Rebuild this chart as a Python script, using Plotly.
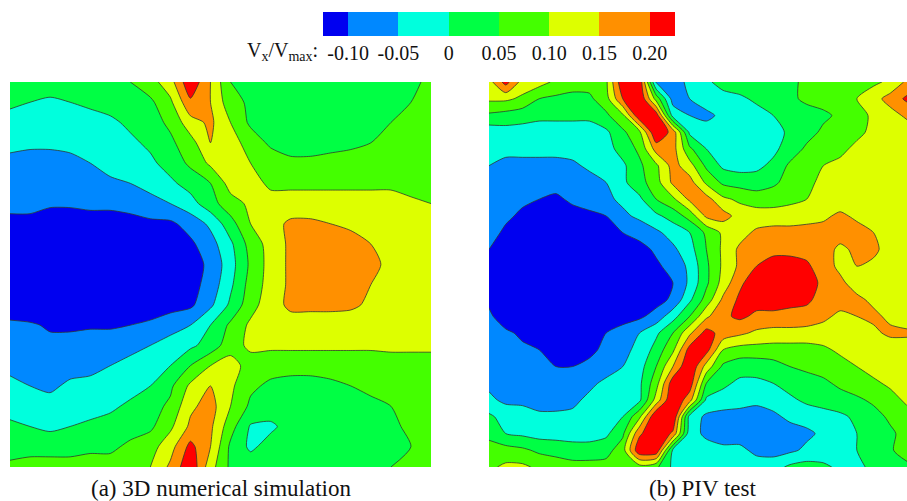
import plotly.graph_objects as go
import numpy as np

# Velocity ratio on a regular grid (hundredths of Vx/Vmax)
sim_z = [
[2,2,3,3,3,4,5,8,13,24,15,5,4,3,3,3,3,3,3,3,4,6],
[1,0,-1,0,1,2,3,4,9,19,15,7,4,3,3,3,3,3,3,4,5,6],
[-2,-3,-3,-3,-2,-1,1,3,6,13,16,10,4,3,3,3,3,4,4,5,6,7],
[-4,-4,-4,-4,-3,-3,-1,1,4,8,15,12,8,4,3,3,4,4,5,6,7,7],
[-6,-7,-7,-6,-5,-3,-2,-1,2,6,11,13,10,8,6,6,6,7,7,7,8,8],
[-7,-8,-8,-8,-7,-6,-5,-3,-1,2,5,12,12,9,9,9,9,9,9,9,8,8],
[-9,-9,-9.5,-9.5,-9,-9,-8,-7,-5,-2,3,8,11,12,12,12,12,12,12,12,11,10],
[-11,-11,-12,-12,-12,-12,-12,-11,-11,-8,-4,3,10,13,16,16,15,14,13,12,12,12],
[-13,-13,-13,-13,-13,-13,-13,-13,-13,-11,-7,-1,7,12,16,17,17,17,15,14,13,12],
[-14,-14,-14,-14,-14,-14,-14,-14,-14,-12,-9,-2,6,12,16,17,17,17,16,14,13,12],
[-14,-14,-14,-14,-14,-14,-14,-14,-14,-12,-8,-1,7,12,16,17,17,17,15,14,13,12],
[-13,-13,-13,-13,-13,-13,-13,-13,-12,-11,-6,1,8,13,16,16,16,16,14,13,12,12],
[-9,-9.5,-10.5,-10.5,-10.5,-10.5,-10,-9,-7,-5,0,6,11,12,13,13,13,12,12,12,11,11],
[-8,-8,-9,-9,-8,-8,-7,-5,-3,-1,2,8,11,11,11,11,11,11,11,11,11,11],
[-6,-7,-7,-7,-6,-5,-3,-2,0,5,10,12,8,7,7,7,7,7,7,8,8,8],
[-4,-5,-6,-4,-4,-3,-2,0,4,11,15,11,6,4,3,3,4,5,6,7,8,8],
[-2,-3,-3,-3,-2,-1,1,3,6,14,17,10,4,3,2,2,3,3,4,5,7,8],
[1,0,-1,0,1,2,3,4,9,16,16,7,-0.5,-1,2,3,3,3,3,4,6,7],
[3,3,3,3,4,4,6,8,13,21.5,15,4,-1,2,3,3,3,3,3,4,5,7],
[6,7,7,7,7,7,8,10,16,24,12,4,3,3,3,3,3,3,3,5,6,7],
]

piv_z = [
[13,22,13,12,9,8,7,9,24,24,-6,-7,-4,-1,2,3,3,3,4,6,7,8,8,9,11,16],
[11,11,9,5,4,3,4,8,20,25,8,-7,-5,-3,-2,-1,1,3,4,6,7,8,10,13,17,21],
[4,3,2,1,1,1,1,4,9,24,23,-2,-5,-6,-4,-3,-2,0,2,3,4,6,8,11,13,16],
[-3,-2,-2,-2,-2,-2,-2,-1,4,9,25,18,-1,-3,-3,-3,-3,-2,1,3,6,7,9,11,11,12],
[-3,-3,-3,-3,-3,-3,-3,-2,2,6,17,17,6,0,-2,-3,-2,-1,2,6,7,9,11,12,12,12],
[-5,-7,-7,-7,-7,-6,-4,-3,-1,4,9,17,12,4,-1,-2,-1,1,6,8,10,11,12,12,12,12],
[-7,-8,-8,-8,-8,-8,-7,-5,-1,3,8,16,17,9,4,3,2,4,7,9,11,12,12,12,12,12],
[-7,-8,-9,-10,-11,-9,-8,-6,-4,-1,5,9,16,17,11,9,8,8,9,10,11,12,12,12,12,12],
[-8,-9,-11,-12,-12,-12,-11,-10,-6,-4,-1,2,7,16,17,13,12,12,12,13,14,16,14,12,12,12],
[-8,-11,-13,-13,-13,-13,-13,-12,-10,-8,-6,-3,0,6,11,13,16,17,17,17,17,17,17,15,13,12],
[-10,-13,-14,-14,-14,-14,-14,-14,-13,-12,-9,-6,-2,5,11,16,17,18,18,18,17,14,16,16,13,12],
[-10,-14,-14,-14,-14,-14,-14,-14,-14,-13,-11,-8,-4,4,11,16,20,23,23,21,17,14,15,14,12,12],
[-10,-14,-14,-14,-14,-14,-14,-14,-14,-13,-12,-10,-4,4,12,19,23,23,23,22,19,16,13,12,12,12],
[-11,-14,-14,-14,-14,-14,-14,-14,-14,-13,-12,-9,-1,7,16,21,22,22,21,21,18,17,16,14,12,12],
[-9,-13,-13,-13,-13,-13,-13,-13,-12,-11,-8,-2,5,14,19,21,19,19,19,18,16,14,15,16,14,12],
[-7,-9,-11,-12,-12,-12,-11,-10,-8,-5,-1,5,14,22,18,16,14,13,13,13,13,13,13,14,16,16],
[-7,-8,-9,-10,-11,-11,-11,-9,-6,-4,2,9,22,22,10,8,8,8,8,8,9,11,12,12,12,12],
[-6,-7,-8,-9,-10,-10,-9,-7,-5,-2,5,15,25,13,4,2,2,3,5,6,7,8,10,12,12,12],
[-6,-7,-8,-8,-8,-8,-6,-4,-3,-1,8,23,23,5,1,-1,-1,0,2,3,4,6,8,9,11,12],
[-4,-6,-6,-7,-7,-6,-4,-3,-2,-1,12,25,17,-1,-2,-3,-4,-3,-1,1,2,3,4,6,8,11],
[1,-2,-3,-4,-4,-4,-3,-2,0,9,25,25,-2,-6,-7,-7,-7,-6,-4,-3,-2,-1,1,3,6,8],
[3,0,-1,-2,-2,-2,-2,-1,4,19,25,19,-3,-6,-7,-7,-8,-7,-7,-6,-4,-2,0,2,4,7],
[8,7,6,4,3,2,2,3,8,24,24,-1,-2,-3,-4,-4,-6,-7,-6,-4,-3,-2,0,2,4,9],
[9,11,11,9,8,7,7,7,8,8,6,-1,-2,-2,-3,-3,-3,-2,1,2,1,-1,-1,1,1,3],
]

band_colors = ["#0000f0", "#0088ff", "#00ffdd", "#00ff44", "#44ff00", "#ddff00", "#ff9000", "#ff0000"]
level_values = [-0.10, -0.05, 0, 0.05, 0.10, 0.15, 0.20]
level_labels = ["-0.10", "-0.05", "0", "0.05", "0.10", "0.15", "0.20"]
band_centres = [-0.125, -0.075, -0.025, 0.025, 0.075, 0.125, 0.175, 0.225]
caption_a = "(a) 3D numerical simulation"
caption_b = "(b) PIV test"

W, H = 907, 501
def dx(a, b): return [a / W, b / W]
def dy(top, bottom): return [1 - bottom / H, 1 - top / H]

scale = [[i / 7, c] for i, c in enumerate(band_colors)]

def panel(z, xa, ya):
    return go.Contour(
        z=(np.array(z, dtype=float) / 100).tolist(),
        xaxis=xa, yaxis=ya,
        colorscale=scale, showscale=False, hoverinfo="skip",
        autocontour=False,
        contours=dict(start=-0.10, end=0.20, size=0.05, coloring="fill", showlines=True),
        line=dict(color="#2f3a30", width=0.8, smoothing=0.7),
    )

fig = go.Figure()
fig.add_trace(panel(sim_z, "x", "y"))
fig.add_trace(panel(piv_z, "x2", "y2"))
fig.add_trace(go.Heatmap(
    x=band_centres, y=[0], z=[band_centres], xaxis="x3", yaxis="y3",
    colorscale=[[i / 7, c] for i, c in enumerate(band_colors)],
    showscale=False, hoverinfo="skip", xgap=0,
))

hidden = dict(visible=False, showgrid=False, zeroline=False)
serif = "Liberation Serif"
fig.update_layout(
    width=W, height=H, margin=dict(l=0, r=0, t=0, b=0, pad=0),
    paper_bgcolor="white", plot_bgcolor="white", showlegend=False,
    xaxis=dict(domain=dx(10, 431), range=[0, 21], **hidden),
    yaxis=dict(domain=dy(82, 467), range=[19, 0], **hidden),
    xaxis2=dict(domain=dx(489, 907), range=[0, 25], **hidden),
    yaxis2=dict(domain=dy(82, 467), range=[23, 0], anchor="x2", **hidden),
    xaxis3=dict(domain=dx(323, 675), range=[-0.125, 0.225], anchor="y3",
                tickmode="array", tickvals=level_values, ticktext=level_labels,
                ticks="", showgrid=False, zeroline=False, showline=False, ticklabelstandoff=3,
                tickfont=dict(family=serif, size=20, color="#111")),
    yaxis3=dict(domain=dy(12, 36), range=[-0.5, 0.5], anchor="x3", **hidden),
    font=dict(family=serif, color="#111"),
    annotations=[
        dict(text="V<sub>x</sub>/V<sub>max</sub>:", x=245 / W, y=1 - 51 / H, xref="paper", yref="paper",
             xanchor="left", yanchor="middle", showarrow=False, font=dict(family=serif, size=20, color="#111")),
        dict(text=caption_a, x=221 / W, y=1 - 488 / H, xref="paper", yref="paper",
             xanchor="center", yanchor="middle", showarrow=False, font=dict(family=serif, size=23, color="#111")),
        dict(text=caption_b, x=703 / W, y=1 - 488 / H, xref="paper", yref="paper",
             xanchor="center", yanchor="middle", showarrow=False, font=dict(family=serif, size=23, color="#111")),
    ],
)
fig.write_html("out.html", config=dict(displayModeBar=False),
               post_script="document.body.style.margin='0';document.documentElement.style.overflow='hidden';")
